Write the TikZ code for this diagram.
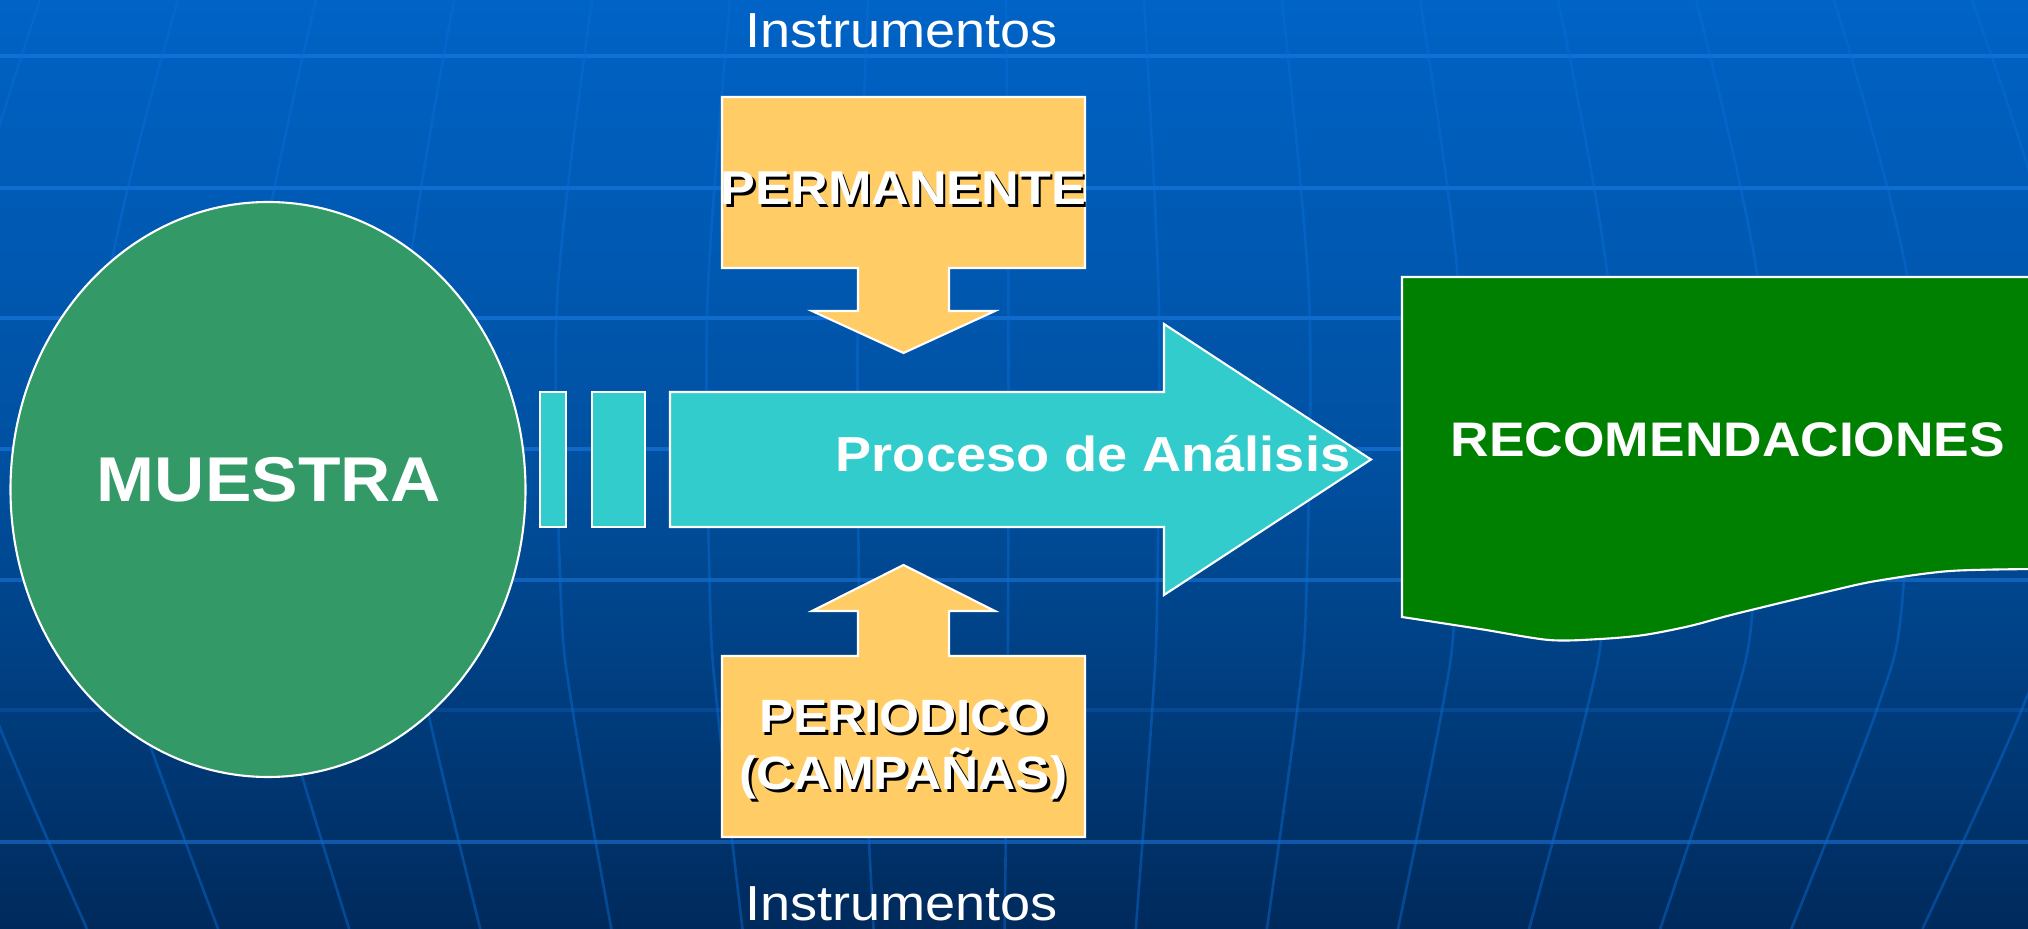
\documentclass[tikz,border=0pt]{standalone}
\usepackage{fontspec}
\setmainfont{Liberation Sans}[FakeStretch=1.1]
\definecolor{bgtop}{RGB}{0,99,198}
\definecolor{bgmid}{RGB}{0,80,160}
\definecolor{bgbot}{RGB}{0,42,92}
\definecolor{gridblue}{RGB}{30,125,230}
\definecolor{meridianblue}{RGB}{10,110,215}
\definecolor{muestragreen}{RGB}{51,153,102}
\definecolor{procesocyan}{RGB}{51,204,204}
\definecolor{instrorange}{RGB}{255,204,102}
\definecolor{recogreen}{RGB}{0,128,0}
\tikzset{
  outline/.style={draw=white, line width=0.6pt},
  texto/.style={text=white, anchor=base},
  sombra/.style={text=black, anchor=base}
}

\begin{document}
\begin{tikzpicture}
\clip (0,0) rectangle (20.28,9.29);
\shade[top color=bgtop, bottom color=bgbot, middle color=bgmid] (0,0) rectangle (20.28,9.29);
\foreach \y/\a in {8.73/0.55,7.41/0.55,6.11/0.55,4.80/0.55,3.49/0.5,2.19/0.2,0.87/0.5}
  \draw[gridblue, opacity=\a, line width=0.95pt] (0,\y) -- (20.28,\y);
\foreach \k in {-7,...,7} {
  \pgfmathsetmacro{\o}{0.26+1.38*\k}
  \draw[meridianblue, opacity=0.45, line width=0.75pt] plot[smooth] coordinates {({9.8+\o},9.29) ({9.8+1.09*\o},6.29) ({9.8+1.08*\o},3.29) ({9.8+1.05*\o},2.19) ({9.8+0.95*\o},0)};
}

\draw[outline, fill=muestragreen] (2.68,4.395) ellipse (2.575 and 2.875);
\node[texto, font=\bfseries\fontsize{18}{21}\selectfont] (muestra) at (2.69, 4.27) {MUESTRA};

\draw[outline, fill=procesocyan] (5.40,4.02) rectangle (5.66,5.37);
\draw[outline, fill=procesocyan] (5.92,4.02) rectangle (6.45,5.37);
\draw[outline, fill=procesocyan] (6.70,4.02) -- (11.64,4.02) -- (11.64,3.34) -- (13.71,4.695) -- (11.64,6.05) -- (11.64,5.37) -- (6.70,5.37) -- cycle;
\node[texto, font=\bfseries\fontsize{14}{16}\selectfont] (proceso) at (10.93, 4.57) {Proceso de Análisis};

\draw[outline, fill=instrorange] (7.22,8.32) -- (10.85,8.32) -- (10.85,6.61) -- (9.49,6.61) -- (9.49,6.18) -- (9.95,6.18) -- (9.035,5.76) -- (8.12,6.18) -- (8.58,6.18) -- (8.58,6.61) -- (7.22,6.61) -- cycle;
\node[sombra, font=\bfseries\fontsize{13.5}{16}\selectfont] (permanente-sombra) at (9.06, 7.215) {PERMANENTE};
\node[texto, font=\bfseries\fontsize{13.5}{16}\selectfont] (permanente) at (9.035, 7.24) {PERMANENTE};

\draw[outline, fill=instrorange] (7.22,0.92) -- (10.85,0.92) -- (10.85,2.73) -- (9.49,2.73) -- (9.49,3.18) -- (9.95,3.18) -- (9.035,3.64) -- (8.12,3.18) -- (8.58,3.18) -- (8.58,2.73) -- (7.22,2.73) -- cycle;
\node[sombra, font=\bfseries\fontsize{13.3}{16}\selectfont] (periodico-sombra) at (9.06, 1.935) {PERIODICO};
\node[texto, font=\bfseries\fontsize{13.3}{16}\selectfont] (periodico) at (9.035, 1.96) {PERIODICO};
\node[sombra, font=\bfseries\fontsize{13.3}{16}\selectfont] (campanas-sombra) at (9.06, 1.365) {(CAMPAÑAS)};
\node[texto, font=\bfseries\fontsize{13.3}{16}\selectfont] (campanas) at (9.035, 1.39) {(CAMPAÑAS)};

\draw[outline, fill=recogreen] (20.40,3.60) -- (20.40,6.52) -- (14.02,6.52) -- (14.02,3.12) -- plot[smooth, tension=0.5] coordinates {(14.02,3.12) (14.80,3.00) (15.49,2.89) (16.00,2.90) (16.44,2.94) (16.90,3.03) (17.35,3.15) (18.26,3.37) (18.76,3.48) (19.50,3.58) (20.40,3.60)} -- cycle;
\node[texto, font=\bfseries\fontsize{13.8}{16}\selectfont] (recomendaciones) at (17.28, 4.72) {RECOMENDACIONES};

\node[texto, inner sep=0pt, font=\fontsize{14}{16}\selectfont] (instrumentos-arriba) at (9.015, 8.81) {Instrumentos};
\node[texto, inner sep=0pt, font=\fontsize{14}{16}\selectfont] (instrumentos-abajo) at (9.015, 0.08) {Instrumentos};
\end{tikzpicture}
\end{document}
